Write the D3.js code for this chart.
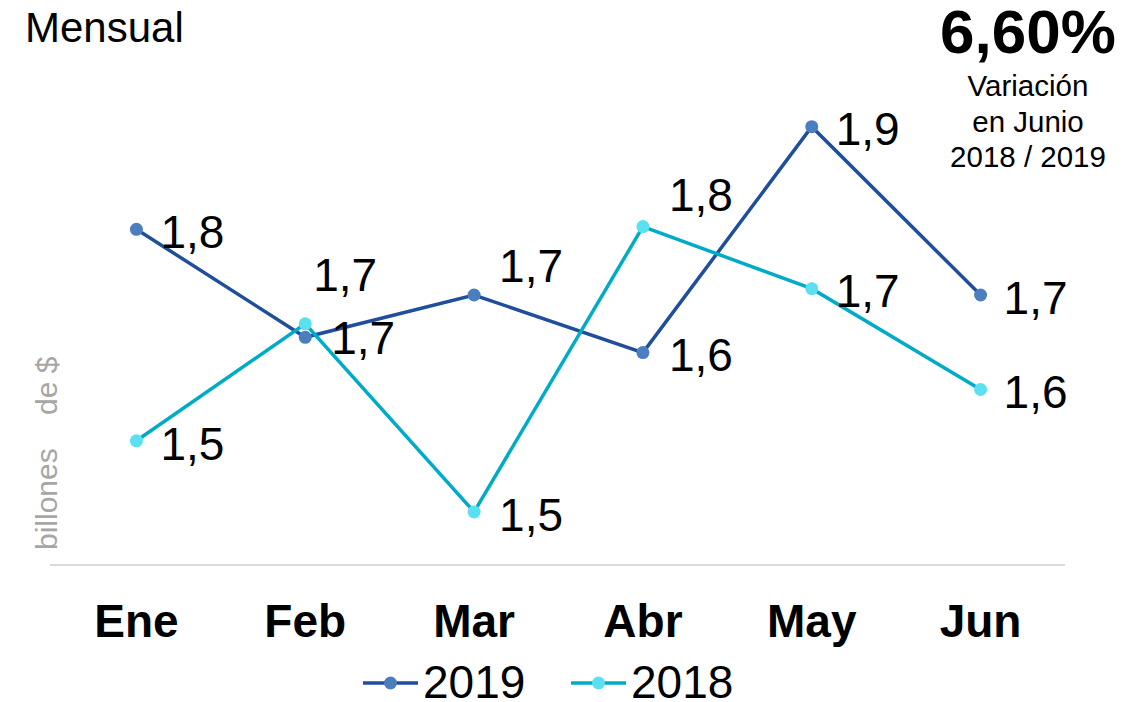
<!DOCTYPE html>
<html>
<head>
<meta charset="utf-8">
<script src="https://cdn.jsdelivr.net/npm/d3@7"></script>
<style>
  body { margin: 0; background: #fff; }
  svg { display: block; font-family: "Liberation Sans", Arial, sans-serif; }
</style>
</head>
<body>
<div id="chart"></div>
<script>
/* DATA */
const months = ["Ene", "Feb", "Mar", "Abr", "May", "Jun"];
const values2019 = [1.773, 1.653, 1.700, 1.636, 1.887, 1.700];
const values2018 = [1.538, 1.668, 1.459, 1.776, 1.707, 1.595];
const seriesNames = ["2019", "2018"];

/* label nudges, [dx, dy] from each point */
const labelShift2019 = [[24, 2], [26, 0], [25, -30], [26, 2], [24, 2], [23, 2]];
const labelShift2018 = [[24, 3], [8, -49], [25, 3], [26, -32], [24, 2], [23, 2]];

/* CONSTANTS */
const width = 1137, height = 702;
const colors = {
  "2019": { line: "#1f4e9b", dot: "#4a7ebf" },
  "2018": { line: "#00abc8", dot: "#5ae0f0" }
};
const fmt = v => d3.format(".1f")(v).replace(".", ",");

const svg = d3.select("#chart").append("svg")
  .attr("width", width)
  .attr("height", height);

const x = d3.scaleBand()
  .domain(months)
  .range([52, 1065]);

const y = d3.scaleLinear()
  .domain([1.4, 1.95])
  .range([565, 70]);

const cx = d => x(d) + x.bandwidth() / 2;

// baseline
svg.append("line")
  .attr("x1", x.range()[0] - 2).attr("x2", x.range()[1])
  .attr("y1", y(1.4)).attr("y2", y(1.4))
  .attr("stroke", "#d9d9d9")
  .attr("stroke-width", 2);

// x axis labels
const xAxis = svg.append("g")
  .attr("transform", `translate(0, ${y(1.4)})`)
  .call(d3.axisBottom(x).tickSize(0).tickPadding(0));
xAxis.select(".domain").remove();
xAxis.selectAll("text")
  .attr("y", 72)
  .attr("dy", 0)
  .attr("font-size", 46)
  .attr("font-weight", "bold")
  .attr("fill", "#000")
  .style("font-family", "Liberation Sans, Arial, sans-serif");

// y label
svg.append("text")
  .attr("transform", "translate(57, 550) rotate(-90)")
  .attr("font-size", 30)
  .attr("fill", "#a6a6a6")
  .style("white-space", "pre")
  .text("billones    de $");

const series = [
  { name: "2019", values: values2019, shifts: labelShift2019 },
  { name: "2018", values: values2018, shifts: labelShift2018 }
];

const line = d3.line()
  .x((d, i) => cx(months[i]))
  .y(d => y(d));

series.forEach(s => {
  const g = svg.append("g");
  g.append("path")
    .attr("d", line(s.values))
    .attr("fill", "none")
    .attr("stroke", colors[s.name].line)
    .attr("stroke-width", 3.5);
  g.selectAll("circle")
    .data(s.values)
    .join("circle")
    .attr("cx", (d, i) => cx(months[i]))
    .attr("cy", d => y(d))
    .attr("r", 6.5)
    .attr("fill", colors[s.name].dot);
});

// data labels drawn last so they sit above lines
series.forEach(s => {
  svg.append("g").selectAll("text")
    .data(s.values)
    .join("text")
    .attr("x", (d, i) => cx(months[i]) + s.shifts[i][0])
    .attr("y", (d, i) => y(d) + s.shifts[i][1])
    .attr("dy", "0.36em")
    .attr("font-size", 46)
    .attr("fill", "#000")
    .text(d => fmt(d));
});

// title
svg.append("text")
  .attr("x", 25).attr("y", 42)
  .attr("font-size", 42)
  .attr("fill", "#000")
  .text("Mensual");

// variation box
const vg = svg.append("g").attr("text-anchor", "middle");
vg.append("text")
  .attr("x", 1028).attr("y", 53)
  .attr("font-size", 62)
  .attr("font-weight", "bold")
  .text("6,60%");
["Variación", "en Junio", "2018 / 2019"].forEach((t, i) => {
  vg.append("text")
    .attr("x", 1028).attr("y", 96 + i * 35.5)
    .attr("font-size", 29.5)
    .text(t);
});

// legend
const legend = svg.append("g");
const legendX = [363, 571];
seriesNames.forEach((n, i) => {
  const lg = legend.append("g").attr("transform", `translate(${legendX[i]}, 683)`);
  lg.append("line")
    .attr("x1", 0).attr("x2", 55)
    .attr("stroke", colors[n].line)
    .attr("stroke-width", 3.5);
  lg.append("circle")
    .attr("cx", 27.5).attr("r", 6.5)
    .attr("fill", colors[n].dot);
  lg.append("text")
    .attr("x", 60).attr("y", 15)
    .attr("font-size", 46)
    .text(n);
});
</script>
</body>
</html>
